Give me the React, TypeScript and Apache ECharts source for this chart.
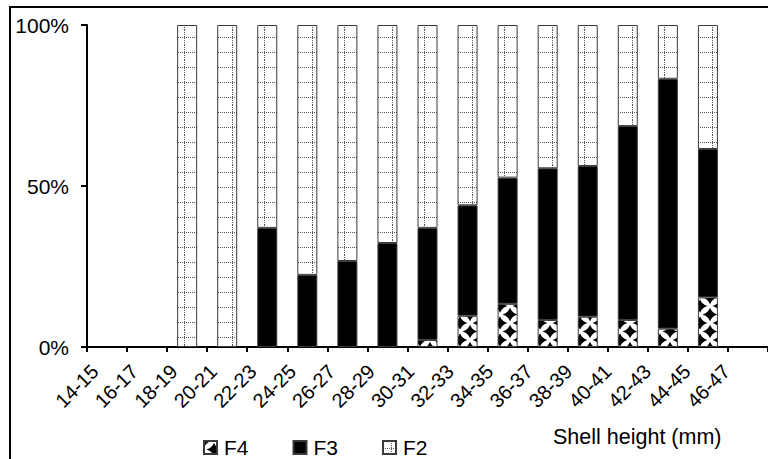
import React, { useEffect, useRef } from "react";
import * as echarts from "echarts";

// Tick labels sit on the category boundaries; each bar occupies the slot that starts at a label.
const tickLabels = [
  "14-15", "16-17", "18-19", "20-21", "22-23", "24-25", "26-27", "28-29", "30-31",
  "32-33", "34-35", "36-37", "38-39", "40-41", "42-43", "44-45", "46-47",
];
const seriesNames = ["F4", "F3", "F2"];
const f4Values = [null, null, null, null, null, null, null, null, 2.2, 9.7, 13.4, 8.4, 9.4, 8.4, 5.7, 15.4, null];
const f3Values = [null, null, null, null, 37, 22.4, 26.7, 32.3, 34.8, 34.3, 39.2, 47.1, 46.8, 60.2, 77.6, 46.1, null];
const f2Values = [null, null, 100, 100, 63, 77.6, 73.3, 67.7, 63, 56, 47.4, 44.5, 43.8, 31.4, 16.7, 38.5, null];
const yTicks = { min: 0, max: 100, interval: 50 };

const FONT = "'Liberation Sans', Arial, sans-serif";

function makeDottedGrid(): HTMLCanvasElement {
  const c = document.createElement("canvas");
  c.width = 16;
  c.height = 15;
  const g = c.getContext("2d")!;
  g.fillStyle = "#ffffff";
  g.fillRect(0, 0, 16, 15);
  g.fillStyle = "#555555";
  for (let y = 0; y < 15; y += 2) g.fillRect(8, y, 1, 1);
  for (let x = 0; x < 16; x += 2) g.fillRect(x, 7, 1, 1);
  return c;
}

function makeDiamonds(): HTMLCanvasElement {
  const w = 20;
  const h = 17;
  const c = document.createElement("canvas");
  c.width = w;
  c.height = h;
  const g = c.getContext("2d")!;
  g.fillStyle = "#ffffff";
  g.fillRect(0, 0, w, h);
  g.fillStyle = "#000000";
  const diamond = (cx: number, cy: number) => {
    const hw = 7.5;
    const hh = 6.8;
    const k = 0.25;
    g.beginPath();
    g.moveTo(cx, cy - hh);
    g.quadraticCurveTo(cx + hw * k, cy - hh * k, cx + hw, cy);
    g.quadraticCurveTo(cx + hw * k, cy + hh * k, cx, cy + hh);
    g.quadraticCurveTo(cx - hw * k, cy + hh * k, cx - hw, cy);
    g.quadraticCurveTo(cx - hw * k, cy - hh * k, cx, cy - hh);
    g.closePath();
    g.fill();
  };
  diamond(w / 2, h / 2);
  diamond(0, 0);
  diamond(w, 0);
  diamond(0, h);
  diamond(w, h);
  return c;
}

export default function App() {
  const ref = useRef<HTMLDivElement>(null);

  useEffect(() => {
    document.body.style.margin = "0";
    if (!ref.current) return;
    const chart = echarts.init(ref.current, null, { renderer: "svg" });

    const gridPattern = makeDottedGrid();
    const diamondPattern = makeDiamonds();
    const f2Fill: any = { image: gridPattern, repeat: "repeat", imageWidth: 16, imageHeight: 15 };
    const f4Fill: any = { image: diamondPattern, repeat: "repeat", imageWidth: 20, imageHeight: 17 };

    const border = { borderColor: "#3a3a3a", borderWidth: 1 };

    chart.setOption({
      animation: false,
      backgroundColor: "#ffffff",
      textStyle: { fontFamily: FONT, color: "#000" },
      grid: [
        { left: 87, top: 25, width: 684, height: 322 },
        { left: 95, top: 25, width: 684, height: 322 },
      ],
      xAxis: [
        {
          type: "category",
          gridIndex: 0,
          data: tickLabels,
          boundaryGap: true,
          axisLine: { show: true, lineStyle: { color: "#000", width: 2 } },
          axisTick: { show: true, length: 5, lineStyle: { color: "#000", width: 2 } },
          axisLabel: { show: false },
          splitLine: { show: false },
        },
        {
          type: "category",
          gridIndex: 1,
          data: [...tickLabels, ""],
          boundaryGap: false,
          axisLine: { show: false },
          axisTick: { show: false },
          axisLabel: {
            show: true,
            interval: 0,
            rotate: 45,
            margin: 21,
            fontSize: 20,
            fontFamily: FONT,
            color: "#000",
          },
          splitLine: { show: false },
        },
      ],
      yAxis: [
        {
          type: "value",
          gridIndex: 0,
          min: yTicks.min,
          max: yTicks.max,
          interval: yTicks.interval,
          axisLine: { show: true, lineStyle: { color: "#000", width: 2 } },
          axisTick: { show: true, length: 6, lineStyle: { color: "#000", width: 2 } },
          axisLabel: {
            formatter: "{value}%",
            fontSize: 21,
            fontFamily: FONT,
            color: "#000",
            margin: 18,
          },
          splitLine: { show: false },
        },
        { type: "value", gridIndex: 1, show: false, min: 0, max: 100 },
      ],
      legend: {
        data: seriesNames,
        left: 198,
        top: 432,
        itemWidth: 13,
        itemHeight: 13,
        itemGap: 44,
        icon: "rect",
        textStyle: { fontSize: 21, fontFamily: FONT, color: "#000", padding: [0, 0, 0, 2] },
      },
      series: [
        {
          name: seriesNames[0],
          type: "bar",
          stack: "total",
          barWidth: 20,
          data: f4Values,
          itemStyle: { color: f4Fill, ...border },
        },
        {
          name: seriesNames[1],
          type: "bar",
          stack: "total",
          barWidth: 20,
          data: f3Values,
          itemStyle: { color: "#000000", ...border },
        },
        {
          name: seriesNames[2],
          type: "bar",
          stack: "total",
          barWidth: 20,
          data: f2Values,
          itemStyle: { color: f2Fill, ...border },
        },
      ],
      graphic: [
        {
          type: "rect",
          silent: true,
          shape: { x: 10, y: 7, width: 900, height: 600 },
          style: { fill: "none", stroke: "#000", lineWidth: 2 },
        },
        {
          type: "text",
          left: 553,
          top: 426,
          style: { text: "Shell height (mm)", font: `21.5px ${FONT}`, fill: "#000" },
        },
      ],
    });

    return () => chart.dispose();
  }, []);

  return <div ref={ref} style={{ width: 768, height: 459 }} />;
}
